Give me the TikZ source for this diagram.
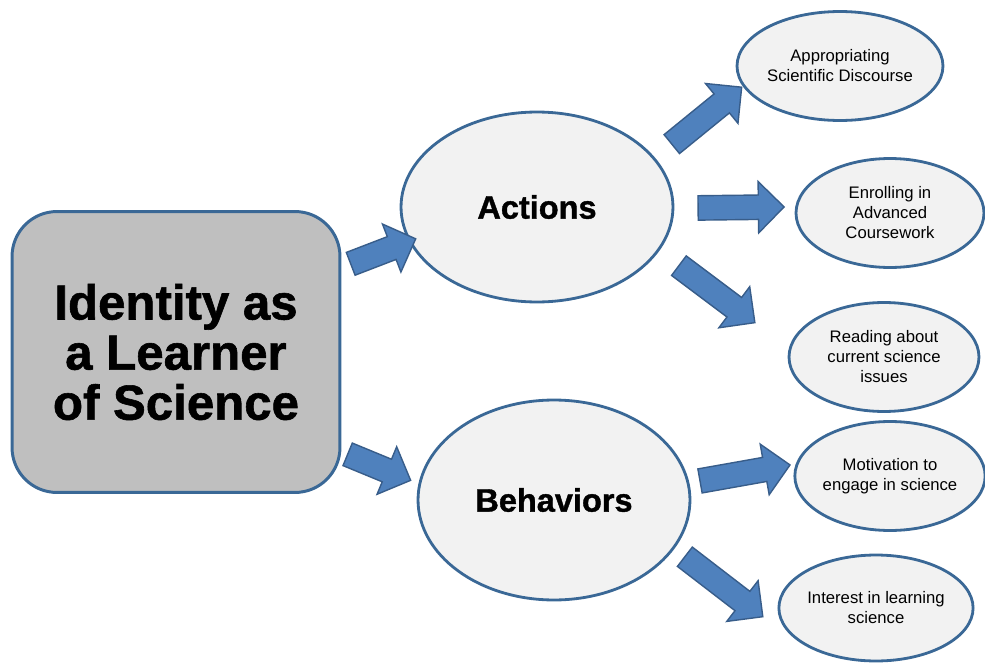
\documentclass[tikz,border=0pt]{standalone}
\usepackage{fontspec}
\setmainfont{Liberation Sans}[BoldFeatures={FakeBold=1.2}]
\usetikzlibrary{shapes.geometric,shapes.arrows,calc}
\definecolor{edgeblue}{HTML}{3A6896}
\definecolor{arrowblue}{HTML}{4F81BD}
\definecolor{arrowedge}{HTML}{385D8A}
\definecolor{bubblefill}{HTML}{F2F2F2}
\definecolor{boxfill}{HTML}{BFBFBF}
\tikzset{
  idbox/.style={draw=edgeblue, line width=1.7pt, fill=boxfill,
    rounded corners=0.9cm, minimum width=6.56cm, minimum height=5.62cm,
    align=center, font=\fontsize{28}{28.5}\selectfont\bfseries},
  bigbubble/.style={ellipse, draw=edgeblue, line width=1.6pt, fill=bubblefill,
    inner sep=0pt, minimum width=5.44cm,
    font=\fontsize{18.5}{20}\selectfont\bfseries},
  bubble/.style={ellipse, draw=edgeblue, line width=1.6pt, fill=bubblefill,
    inner sep=0pt, minimum width=3.8cm, minimum height=2.18cm, align=center,
    font=\fontsize{9.5}{11.4}\selectfont},
  barrow/.style={single arrow, draw=arrowedge, line width=0.8pt,
    fill=arrowblue, inner sep=0pt, text height=0.23cm, text depth=0.23cm,
    single arrow head extend=0.27cm}
}
% block arrow from one named point to another
\newcommand{\blockarrow}[2]{%
  \path let \p1=($(#2)-(#1)$), \n1={atan2(\y1,\x1)}, \n2={veclen(\x1,\y1)} in
    node[barrow, rotate=\n1, minimum height=\n2] at ($(#1)!0.5!(#2)$) {};}
\begin{document}
\begin{tikzpicture}[x=0.02cm, y=-0.02cm]
  \useasboundingbox (0,0) rectangle (985,663);
  \node[idbox] (identity) at (176,352) {Identity as\\a Learner\\of Science};
  \node[bigbubble, minimum height=3.8cm] (actions) at (537,207) {Actions};
  \node[bigbubble, minimum height=4.0cm] (behaviors) at (554,500) {Behaviors};
  \node[bubble, minimum width=3.88cm] (discourse) at (840,66) {Appropriating\\Scientific Discourse};
  \node[bubble, minimum width=3.76cm] (coursework) at (890,213) {Enrolling in\\Advanced\\Coursework};
  \node[bubble] (reading) at (884,357) {Reading about\\current science\\issues};
  \node[bubble, minimum width=3.76cm] (motivation) at (890,476) {Motivation to\\engage in science};
  \node[bubble, minimum width=3.84cm, minimum height=2.12cm] (interest) at (876,608) {Interest in learning\\science};
  % arrow ends
  \coordinate (a1s) at (345,266); \coordinate (a1e) at (410,241);
  \coordinate (a2s) at (342,452); \coordinate (a2e) at (405,478);
  \coordinate (a3s) at (667,148); \coordinate (a3e) at (737,91);
  \coordinate (a4s) at (692,208); \coordinate (a4e) at (778,207);
  \coordinate (a5s) at (674,262); \coordinate (a5e) at (750,319);
  \coordinate (a6s) at (694,482); \coordinate (a6e) at (784,466);
  \coordinate (a7s) at (680,553); \coordinate (a7e) at (758,613);
  \blockarrow{a1s}{a1e}
  \blockarrow{a2s}{a2e}
  \blockarrow{a3s}{a3e}
  \blockarrow{a4s}{a4e}
  \blockarrow{a5s}{a5e}
  \blockarrow{a6s}{a6e}
  \blockarrow{a7s}{a7e}
\end{tikzpicture}
\end{document}
